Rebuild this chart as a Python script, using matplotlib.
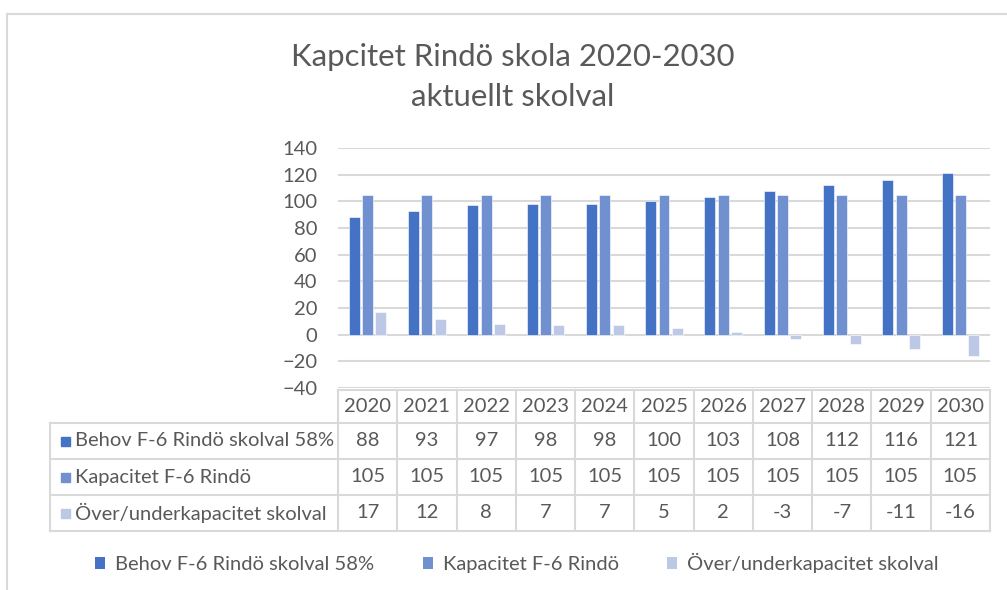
import numpy as np
import matplotlib
matplotlib.use("Agg")
import matplotlib.pyplot as plt
from matplotlib.lines import Line2D
from matplotlib.patches import Patch

plt.rcParams['font.family'] = ['Lato', 'DejaVu Sans']

# data
years = ['2020', '2021', '2022', '2023', '2024', '2025', '2026', '2027', '2028', '2029', '2030']
behov = [88, 93, 97, 98, 98, 100, 103, 108, 112, 116, 121]
kapacitet = [105, 105, 105, 105, 105, 105, 105, 105, 105, 105, 105]
over_under = [17, 12, 8, 7, 7, 5, 2, -3, -7, -11, -16]
series_names = ['Behov F-6 Rindö skolval 58%', 'Kapacitet F-6 Rindö', 'Över/underkapacitet skolval']
colors = ['#4472C4', '#7190CF', '#BDC8E6']
title = 'Kapcitet Rindö skola 2020-2030\naktuellt skolval'

W, H = 1007, 590
TXT = '#595959'
GRID = '#D9D9D9'
FS = 14.5

fig = plt.figure(figsize=(W / 100, H / 100), dpi=100)

# plot area in pixels
px_left, px_right = 338, 990
px_top, px_bot = 148, 388
ax = fig.add_axes([px_left / W, 1 - px_bot / H, (px_right - px_left) / W, (px_bot - px_top) / H])

x = np.arange(len(years))
bw = 0.185
step = 0.225
for i, (vals, c) in enumerate(zip([behov, kapacitet, over_under], colors)):
    ax.bar(x + (i - 1) * step, vals, width=bw, color=c, edgecolor='white', linewidth=0.4, zorder=3)

ax.set_xlim(-0.5, len(years) - 0.5)
ax.set_ylim(-40, 140)
ax.set_yticks(range(-40, 141, 20))
ax.grid(axis='y', color=GRID, linewidth=1.5, zorder=0)
ax.set_xticks([])
for s in ax.spines.values():
    s.set_visible(False)
ax.tick_params(axis='y', length=0, pad=15, labelsize=FS, labelcolor=TXT)

fig.text(0.509, 1 - 77 / H, title, ha='center', va='center', fontsize=22.4,
         color=TXT, linespacing=1.5)

# data table under the plot
tax = fig.add_axes([0, 0, 1, 1])
tax.set_xlim(0, W)
tax.set_ylim(H, 0)
tax.axis('off')

colw = (px_right - px_left) / len(years)
row_y = [390, 423, 459, 495, 531]
lab_left = 50
lw = 1.5
# header row
tax.plot([px_left, px_right], [row_y[0]] * 2, color=GRID, lw=lw)
for r in row_y[1:]:
    tax.plot([lab_left, px_right], [r, r], color=GRID, lw=lw)
for j in range(len(years) + 1):
    xx = px_left + j * colw
    tax.plot([xx, xx], [row_y[0], row_y[-1]], color=GRID, lw=lw)
tax.plot([lab_left, lab_left], [row_y[1], row_y[-1]], color=GRID, lw=lw)

for j, yr in enumerate(years):
    tax.text(px_left + (j + 0.5) * colw, (row_y[0] + row_y[1]) / 2, yr,
             ha='center', va='center', fontsize=FS, color=TXT)

rows = [behov, kapacitet, over_under]
for i, (vals, name, c) in enumerate(zip(rows, series_names, colors)):
    yc = (row_y[i + 1] + row_y[i + 2]) / 2
    tax.add_patch(plt.Rectangle((61, yc - 4.5), 9, 9, color=c))
    tax.text(75, yc, name, ha='left', va='center', fontsize=FS, color=TXT)
    for j, v in enumerate(vals):
        tax.text(px_left + (j + 0.5) * colw, yc, str(v), ha='center', va='center',
                 fontsize=FS, color=TXT)

# legend
handles = [Patch(facecolor=c, edgecolor='none') for c in colors]
fig.legend(handles, series_names, loc='center', bbox_to_anchor=(517 / W, 1 - 563 / H),
           ncol=3, frameon=False, fontsize=FS, labelcolor=TXT,
           handlelength=0.5, handleheight=0.5, handletextpad=0.5, columnspacing=2.4)

# chart frame (left and top edges)
fig.add_artist(Line2D([7 / W, 7 / W], [0, 1 - 14 / H], color=GRID, lw=1.5))
fig.add_artist(Line2D([7 / W, 1], [1 - 14 / H, 1 - 14 / H], color=GRID, lw=1.5))

fig.savefig('out.png', dpi=100)
